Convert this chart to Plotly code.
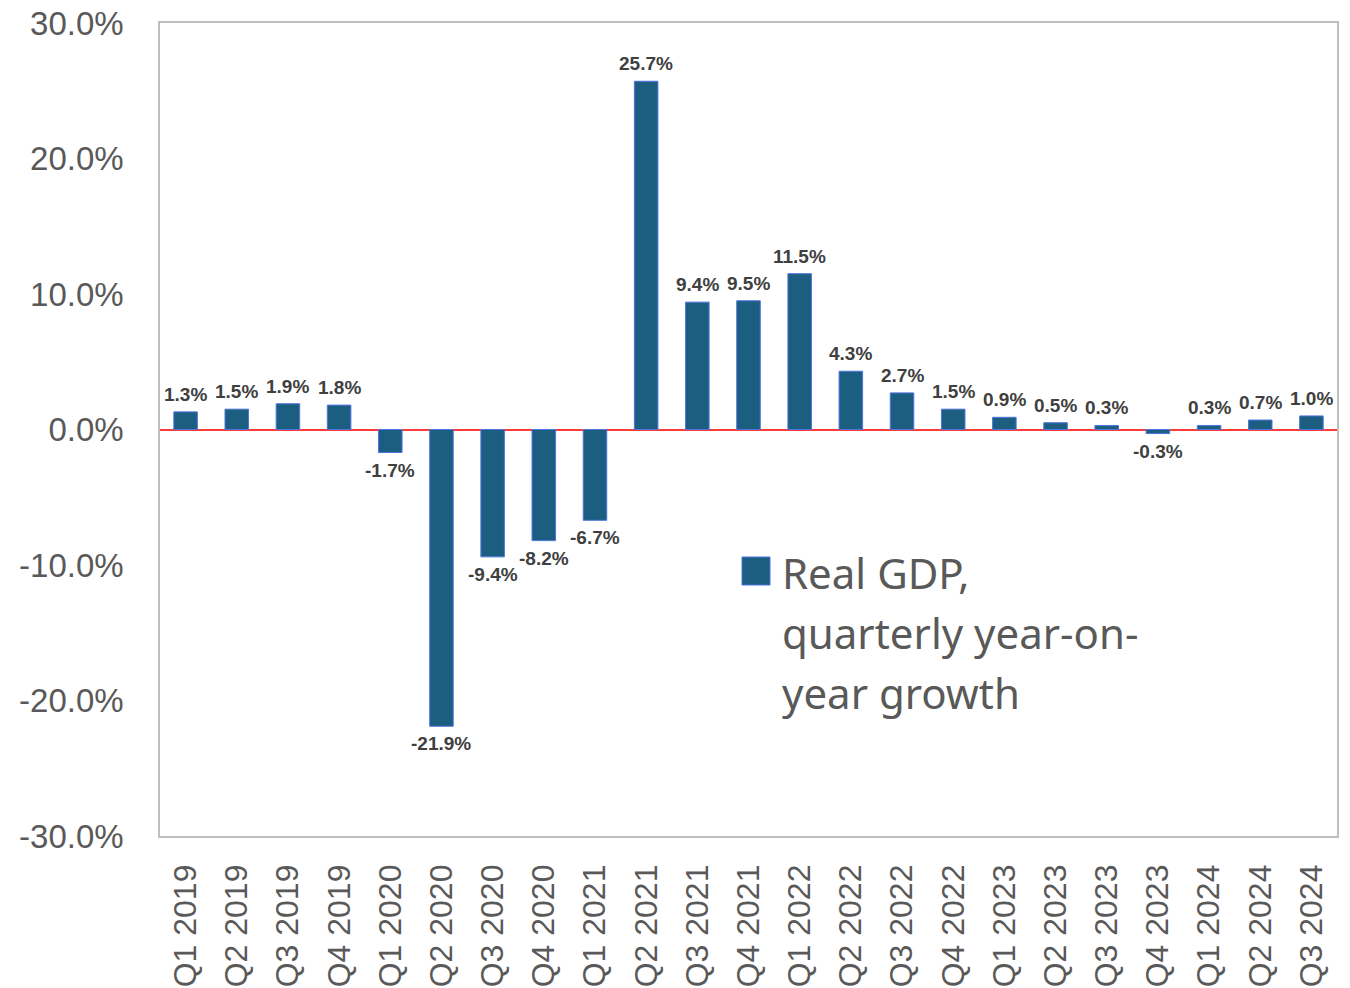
import plotly.graph_objects as go

quarters = [
    "Q1 2019", "Q2 2019", "Q3 2019", "Q4 2019",
    "Q1 2020", "Q2 2020", "Q3 2020", "Q4 2020",
    "Q1 2021", "Q2 2021", "Q3 2021", "Q4 2021",
    "Q1 2022", "Q2 2022", "Q3 2022", "Q4 2022",
    "Q1 2023", "Q2 2023", "Q3 2023", "Q4 2023",
    "Q1 2024", "Q2 2024", "Q3 2024",
]
gdp_growth = [
    1.3, 1.5, 1.9, 1.8,
    -1.7, -21.9, -9.4, -8.2,
    -6.7, 25.7, 9.4, 9.5,
    11.5, 4.3, 2.7, 1.5,
    0.9, 0.5, 0.3, -0.3,
    0.3, 0.7, 1.0,
]
y_ticks = [-30, -20, -10, 0, 10, 20, 30]
y_tick_labels = [f"{v:.1f}%" for v in y_ticks]
legend_lines = ["Real GDP,", "quarterly year-on-", "year growth"]

BAR_COLOR = "#1b5e80"
TEXT_GRAY = "#595959"

fig = go.Figure()
fig.add_trace(go.Bar(
    x=quarters,
    y=gdp_growth,
    marker=dict(color=BAR_COLOR, line=dict(color="#4f74e0", width=1)),
    showlegend=False,
    hovertemplate="%{x}: %{y:.1f}%<extra></extra>",
))

# Value labels just above positive bars / below negative bars
for q, v in zip(quarters, gdp_growth):
    fig.add_annotation(
        x=q, y=v, xref="x", yref="y",
        text=f"{v:.1f}%", showarrow=False,
        yanchor="bottom" if v >= 0 else "top",
        yshift=5 if v >= 0 else -5,
        font=dict(family="Liberation Sans, Arial, sans-serif", size=19,
                  color="#404040", weight="bold"),
    )

# Legend key drawn as a swatch plus wrapped caption
fig.add_shape(type="rect", xref="paper", yref="paper",
              x0=(742 - 160) / 1177, x1=(770 - 160) / 1177,
              y0=(836 - 585) / 813, y1=(836 - 557) / 813,
              fillcolor=BAR_COLOR, line=dict(color="#4f74e0", width=1))
for i, line in enumerate(legend_lines):
    center_px = 572 + 60 * i
    fig.add_annotation(
        xref="paper", yref="paper",
        x=(780 - 160) / 1177, y=(836 - center_px) / 813,
        xanchor="left", yanchor="middle", align="left", showarrow=False,
        text=line,
        font=dict(family="Noto Sans, Open Sans, sans-serif", size=42, color=TEXT_GRAY),
    )

fig.update_layout(
    width=1350, height=988,
    margin=dict(l=160, r=13, t=23, b=152),
    plot_bgcolor="white", paper_bgcolor="white",
    bargap=0.54,
    font=dict(family="Liberation Sans, Arial, sans-serif", color=TEXT_GRAY),
)
fig.update_xaxes(
    tickangle=-90,
    tickfont=dict(size=32, color=TEXT_GRAY),
    showline=True, linecolor="#bfbfbf", linewidth=1.5, mirror=True,
    showgrid=False, ticks="", ticklabelstandoff=14, automargin=False,
)
fig.update_yaxes(
    range=[-30, 30], tickvals=y_ticks, ticktext=y_tick_labels,
    tickfont=dict(size=33, color=TEXT_GRAY),
    showline=True, linecolor="#bfbfbf", linewidth=1.5, mirror=True,
    showgrid=False, ticks="", ticklabelstandoff=28, automargin=False,
    zeroline=True, zerolinecolor="#ff3b3b", zerolinewidth=1.5,
)

fig.write_html("out.html")
